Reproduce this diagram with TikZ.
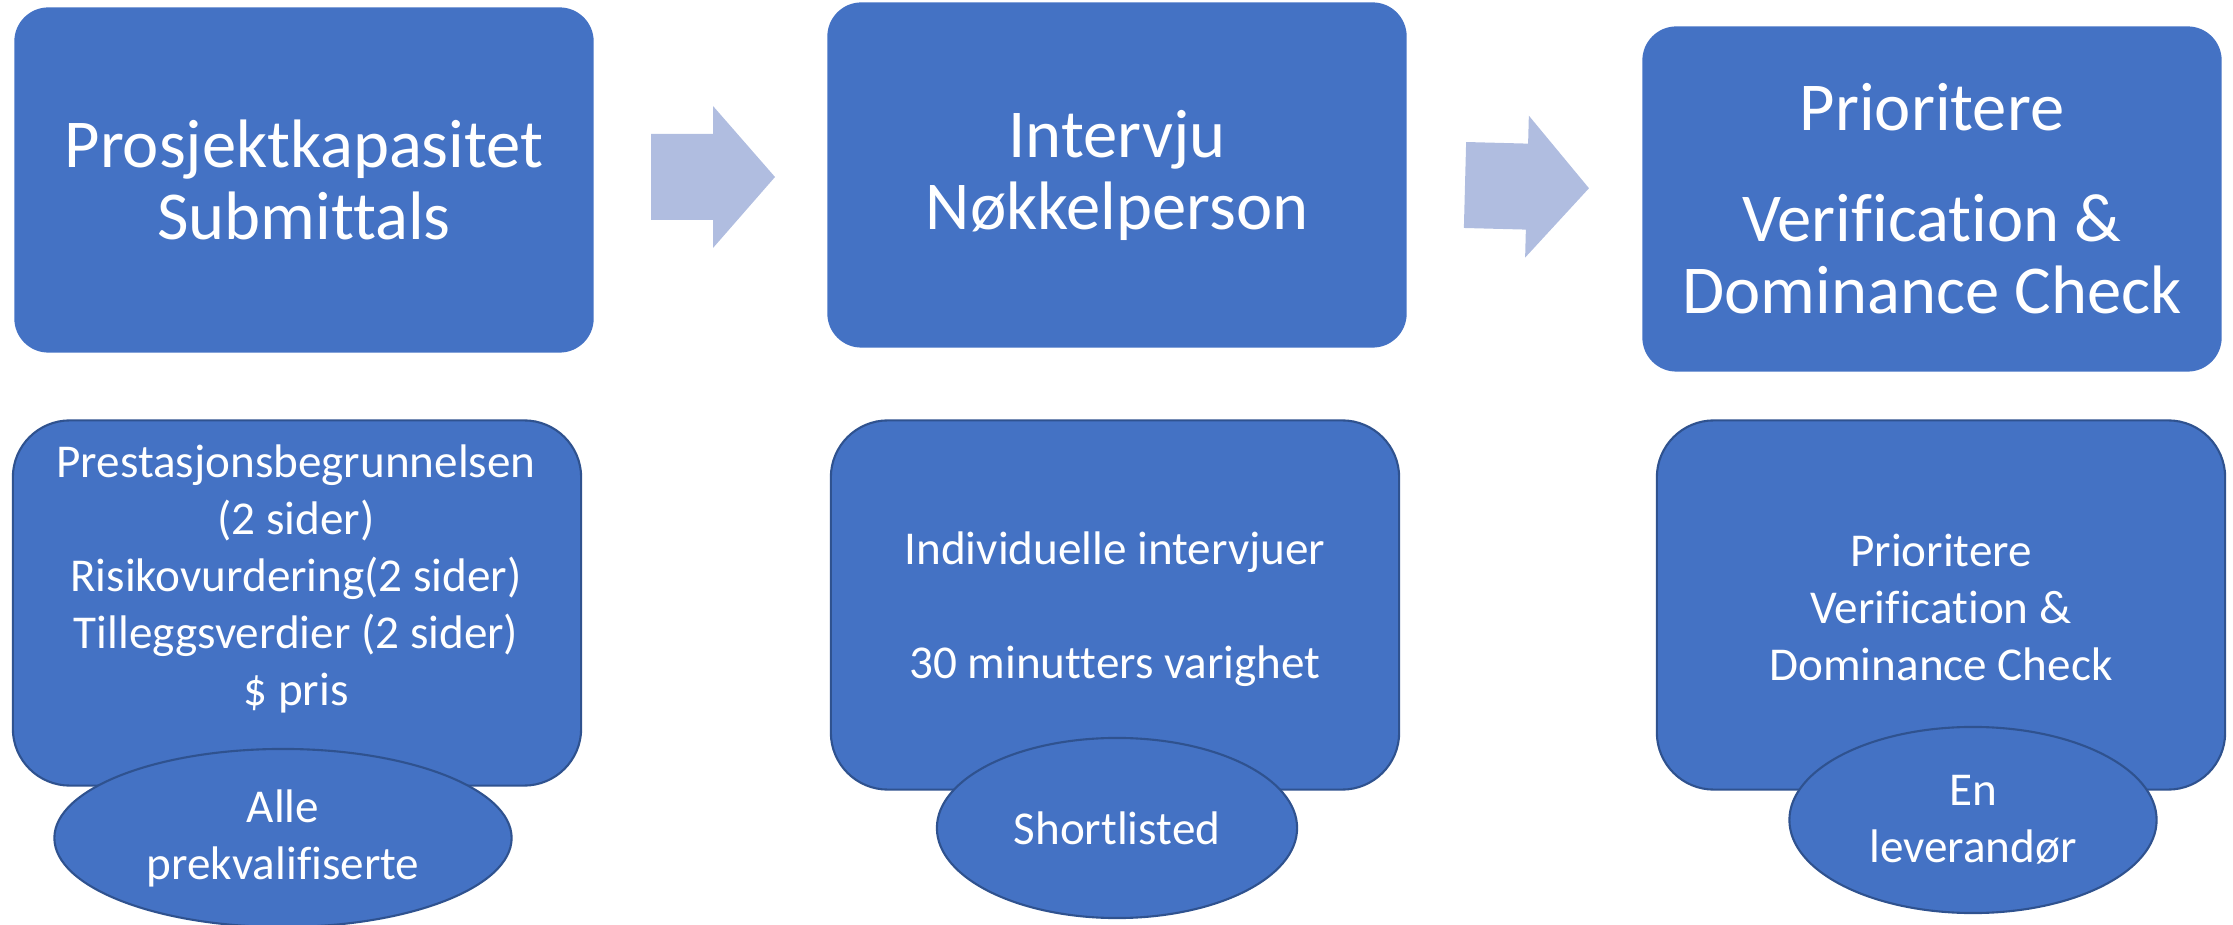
\documentclass[tikz,border=0pt]{standalone}
\usepackage{fontspec}
\setmainfont{Carlito}[Ligatures=NoCommon]
\usepackage{tikz}
\usetikzlibrary{shapes.geometric}
\definecolor{boxblue}{HTML}{4472C4}
\definecolor{edgeblue}{HTML}{2F528F}
\definecolor{arrowblue}{HTML}{B0BDE0}

\tikzset{
  stage/.style={fill=boxblue,rounded corners=0.34cm,minimum width=5.79cm,minimum height=3.45cm,
    inner sep=0pt,text=white,align=center,font=\fontsize{19.5}{20.5}\selectfont},
  detail/.style={fill=boxblue,draw=edgeblue,line width=0.6pt,rounded corners=0.57cm,
    minimum width=5.68cm,minimum height=3.69cm,inner sep=0pt},
  detailtext/.style={text=white,align=center,font=\fontsize{13.4}{16.2}\selectfont},
  outcome/.style={ellipse,fill=boxblue,draw=edgeblue,line width=0.6pt,inner sep=0pt,
    text=white,align=center,font=\fontsize{13.4}{16.2}\selectfont},
  flowarrow/.pic={\fill[arrowblue] (0,-43) -- (62,-43) -- (62,-71) -- (124,0) -- (62,71) -- (62,43) -- (0,43) -- cycle;}
}

\begin{document}
\begin{tikzpicture}[x=0.01cm,y=-0.01cm]
\useasboundingbox (0,0) rectangle (2233,925);
% stages
\node[stage] (submit) at (304,180) {Prosjektkapasitet\\Submittals};
\node[stage] (interview) at (1117,175) {Intervju\\Nøkkelperson};
\node[stage] (verify) at (1932,199) {Prioritere\\[11pt]Verification \&\\Dominance Check};
\pic at (651,177) {flowarrow};
\pic[rotate=-1.5] at (1465,185) {flowarrow};
% details
\node[detail,minimum height=3.65cm] (prest) at (297,603) {};
\node[detail] (intv) at (1115,605) {};
\node[detail] (prio) at (1941,605) {};
\node[detailtext] (presttext) at (296,579) {Prestasjonsbegrunnelsen\\(2 sider)\\Risikovurdering(2 sider)\\Tilleggsverdier (2 sider)\\\$ pris};
\node[detailtext] (intvtext) at (1115,609) {Individuelle intervjuer\\[16.2pt]30 minutters varighet};
\node[detailtext] (priotext) at (1941,607) {Prioritere\\Verification \&\\Dominance Check};
% outcomes
\node[outcome,minimum width=4.57cm,minimum height=1.78cm] (alle) at (283,838) {Alle\\prekvalifiserte};
\node[outcome,minimum width=3.60cm,minimum height=1.80cm] (short) at (1117,828) {Shortlisted};
\node[outcome,minimum width=3.67cm,minimum height=1.86cm] (one) at (1973,820) {En\\leverandør};
\end{tikzpicture}
\end{document}
